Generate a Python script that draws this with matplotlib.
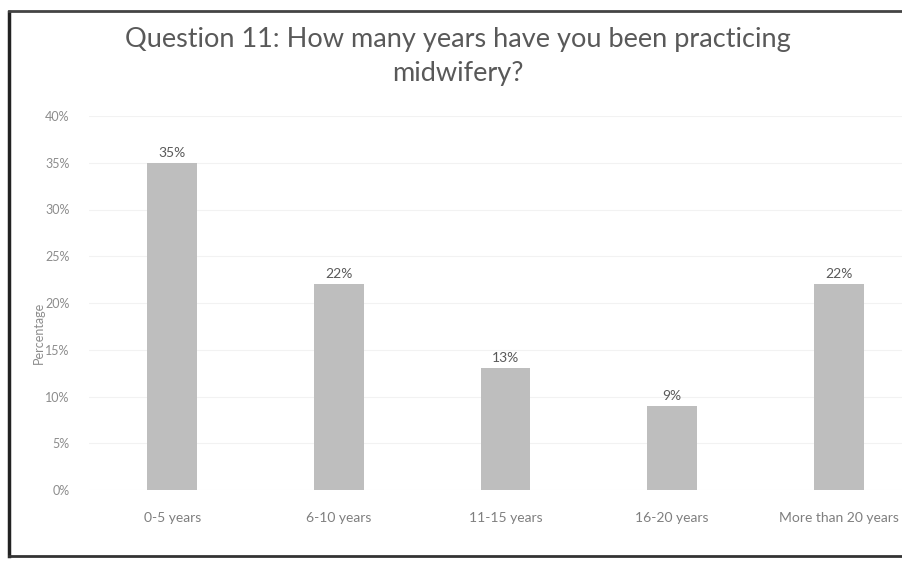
import matplotlib
matplotlib.use("Agg")
import matplotlib.pyplot as plt
from matplotlib.lines import Line2D

categories = ["0-5 years", "6-10 years", "11-15 years", "16-20 years", "More than 20 years"]
values = [35, 22, 13, 9, 22]
yticks = [0, 5, 10, 15, 20, 25, 30, 35, 40]
ytick_labels = [f"{t}%" for t in yticks]
title = "Question 11: How many years have you been practicing\nmidwifery?"

plt.rcParams["font.family"] = ["Lato", "DejaVu Sans"]

W, H = 902, 561
fig = plt.figure(figsize=(W / 100, H / 100), dpi=100)
fig.patch.set_facecolor("white")

ax = fig.add_axes([89 / W, 1 - 490 / H, (W - 89) / W, (490 - 116) / H])
x = list(range(len(categories)))
bars = ax.bar(x, values, width=0.3, color="#BEBEBE", zorder=2)

ax.set_xlim(-0.5, 4.38)
ax.set_ylim(0, 40)
ax.set_yticks(yticks)
ax.set_yticklabels(ytick_labels, fontsize=9, color="#8C8C8C")
ax.set_xticks(x)
ax.set_xticklabels(categories, fontsize=10, color="#7F7F7F")
ax.tick_params(axis="y", length=0, pad=14)
ax.tick_params(axis="x", length=0, pad=16)
ax.grid(axis="y", color="#F2F2F2", linewidth=0.8, zorder=0)
for s in ax.spines.values():
    s.set_visible(False)

for b, v in zip(bars, values):
    ax.annotate(f"{v}%", (b.get_x() + b.get_width() / 2, v), xytext=(0, 3),
                textcoords="offset points", ha="center", va="bottom",
                fontsize=10, color="#595959")

ax.set_ylabel("Percentage", fontsize=9, color="#8C8C8C")
ax.yaxis.set_label_coords(-0.054, 0.42)

fig.text(458 / W, 1 - 57 / H, title, ha="center", va="center",
         fontsize=19.5, color="#595959", linespacing=1.45)

# Outer frame of the chart area
fig.add_artist(Line2D([9 / W, 9 / W], [1 - 12 / H, 1 - 556 / H],
                      transform=fig.transFigure, color="#222222", linewidth=2.5))
fig.add_artist(Line2D([9 / W, 1.0], [1 - 11 / H, 1 - 11 / H],
                      transform=fig.transFigure, color="#444444", linewidth=2))
fig.add_artist(Line2D([9 / W, 1.0], [1 - 556 / H, 1 - 556 / H],
                      transform=fig.transFigure, color="#333333", linewidth=2))

fig.savefig("out.png", dpi=100)
